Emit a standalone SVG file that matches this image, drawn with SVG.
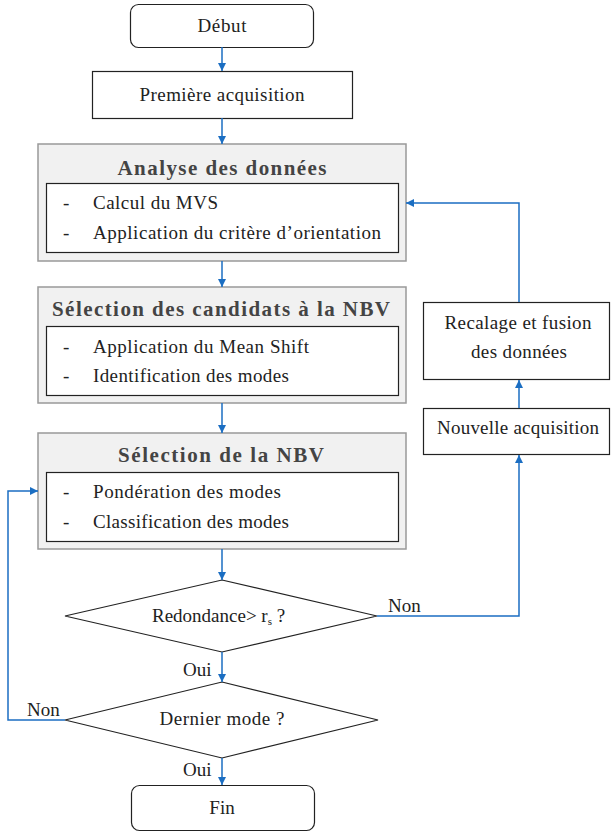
<svg xmlns="http://www.w3.org/2000/svg" width="611" height="834" viewBox="0 0 611 834">
<defs>
<marker id="ah" viewBox="0 0 10 10" refX="10" refY="5" markerWidth="8" markerHeight="8" markerUnits="userSpaceOnUse" orient="auto">
<path d="M0,0 L10,5 L0,10 z" fill="#1b6ec2"/>
</marker>
<style>
text{font-family:'Liberation Serif',serif;fill:#222;font-size:19px}
.t{font-weight:bold;font-size:21px;fill:#444}
.box{fill:#fff;stroke:#222;stroke-width:1.2}
.grp{fill:#f1f1f1;stroke:#999;stroke-width:1.5}
.c{text-anchor:middle}
.con{fill:none;stroke:#1b6ec2;stroke-width:1.5;marker-end:url(#ah)}
</style>
</defs>
<rect width="611" height="834" fill="#fff"/>
<g font-family="Liberation Serif">
<g id="debut"><rect class="box" x="130.5" y="4.5" width="183" height="43" rx="8"/><text class="c" x="222" y="32" textLength="49">Début</text></g>
<g id="premiere"><rect class="box" x="92.5" y="71.5" width="260" height="47"/><text class="c" x="222" y="101" textLength="165">Première acquisition</text></g>
<g id="analyse"><rect class="grp" x="38" y="144" width="368" height="117"/><text class="t c" x="222" y="175" textLength="209">Analyse des données</text>
<rect class="box" x="46.5" y="183.5" width="352" height="69"/>
<text x="63" y="209">-</text><text x="93" y="209" textLength="125">Calcul du MVS</text>
<text x="63" y="239">-</text><text x="93" y="239" textLength="288">Application du critère d’orientation</text></g>
<g id="candidats"><rect class="grp" x="38" y="287" width="368" height="116"/><text class="t c" x="221" y="316" textLength="338">Sélection des candidats à la NBV</text>
<rect class="box" x="46.5" y="326.5" width="352" height="69"/>
<text x="63" y="353">-</text><text x="93" y="353" textLength="216">Application du Mean Shift</text>
<text x="63" y="382">-</text><text x="93" y="382" textLength="196">Identification des modes</text></g>
<g id="nbv"><rect class="grp" x="38" y="433" width="368" height="116"/><text class="t c" x="221" y="462" textLength="206">Sélection de la NBV</text>
<rect class="box" x="46.5" y="472.5" width="352" height="69"/>
<text x="63" y="498">-</text><text x="93" y="498" textLength="188">Pondération des modes</text>
<text x="63" y="528">-</text><text x="93" y="528" textLength="196">Classification des modes</text></g>
<g id="recalage"><rect class="box" x="423.5" y="302.5" width="186" height="77"/><text class="c" x="518" y="329" textLength="147">Recalage et fusion</text><text class="c" x="519" y="358" textLength="96">des données</text></g>
<g id="nouvelle"><rect class="box" x="423.5" y="408.5" width="186" height="46"/><text class="c" x="518" y="434" textLength="162">Nouvelle acquisition</text></g>
<g id="redondance"><polygon class="box" points="222,580 377,616 222,652 65,616"/><text x="152" y="622">Redondance&gt; r<tspan font-size="11" dy="3">s</tspan><tspan dy="-3"> ?</tspan></text></g>
<g id="dernier"><polygon class="box" points="222,682 378,720 222,758 65,720"/><text class="c" x="222" y="725" textLength="125">Dernier mode ?</text></g>
<g id="fin"><rect class="box" x="131.5" y="785.5" width="183" height="45" rx="8"/><text class="c" x="222" y="814">Fin</text></g>
<g id="connectors">
<path class="con" d="M222,47 V71"/>
<path class="con" d="M222,118 V144"/>
<path class="con" d="M222,261 V287"/>
<path class="con" d="M222,403 V433"/>
<path class="con" d="M222,549 V580"/>
<path class="con" d="M222,652 V682"/>
<path class="con" d="M222,758 V785"/>
<path class="con" d="M65,720 H8 V491 H38"/>
<path class="con" d="M377,616 H519 V455"/>
<path class="con" d="M519,408 V380"/>
<path class="con" d="M519,302 V203 H406"/>
<text x="388" y="612">Non</text>
<text x="27" y="716">Non</text>
<text x="183" y="676">Oui</text>
<text x="183" y="776">Oui</text>
</g>
</g>
</svg>
